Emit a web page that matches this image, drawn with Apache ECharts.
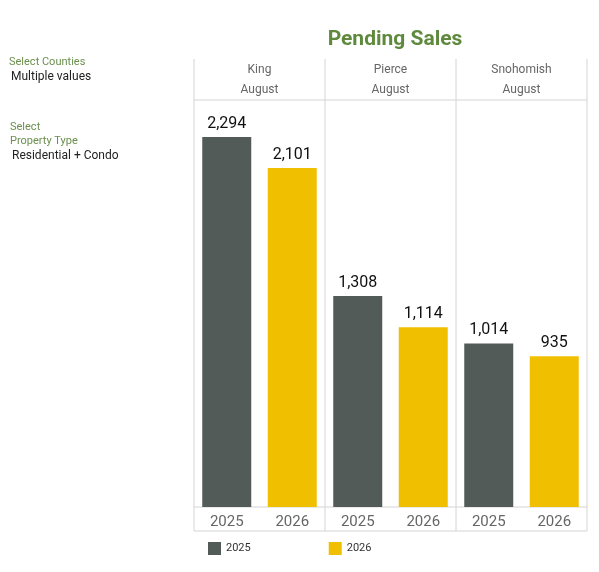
<!DOCTYPE html>
<html><head><meta charset="utf-8">
<script src="https://cdn.jsdelivr.net/npm/echarts@6/dist/echarts.min.js"></script>
<style>html,body{margin:0;padding:0;background:#fff}#main{width:599px;height:572px}</style>
</head><body><div id="main"></div>
<script>
var counties = ['King', 'Pierce', 'Snohomish'];
var month = 'August';
var years = ['2025', '2026'];
var sales2025 = [2294, 1308, 1014];
var sales2026 = [2101, 1114, 935];
var colors = ['#535b58', '#f0c000'];

var chart = echarts.init(document.getElementById('main'));
var F = 'Roboto';
var grids = [], xAxes = [], yAxes = [], series = [];
var lefts = [194, 325, 456];
counties.forEach(function (c, i) {
    grids.push({left: lefts[i], width: 131, top: 100, height: 407});
    xAxes.push({type: 'category', gridIndex: i, data: years,
        axisLine: {show: false}, axisTick: {show: false},
        axisLabel: {color: '#666', fontSize: 15, fontFamily: F, margin: 8}});
    yAxes.push({type: 'value', gridIndex: i, min: 0, max: 2523, show: false, splitLine: {show: false}});
    [sales2025, sales2026].forEach(function (arr, k) {
        var d = [null, null];
        d[k] = arr[i];
        series.push({type: 'bar', name: years[k], xAxisIndex: i, yAxisIndex: i,
            data: d, barWidth: 49, barGap: '-100%',
            itemStyle: {color: colors[k]},
            label: {show: true, position: 'top', color: '#111', fontSize: 16, fontFamily: F,
                formatter: function (p) { return p.value.toLocaleString('en-US'); }}});
    });
});

var g = [];
[194, 325, 456, 587].forEach(function (x) {
    g.push({type: 'line', shape: {x1: x, y1: 59, x2: x, y2: 531}, style: {stroke: '#d4d4d4', lineWidth: 1}});
});
[100, 507, 531].forEach(function (y) {
    g.push({type: 'line', shape: {x1: 194, y1: y, x2: 587, y2: y}, style: {stroke: '#d4d4d4', lineWidth: 1}});
});
counties.forEach(function (c, i) {
    var cx = lefts[i] + 65.5;
    g.push({type: 'text', x: cx, y: 70, style: {text: c, fill: '#666', font: '12px Roboto', align: 'center', verticalAlign: 'middle'}});
    g.push({type: 'text', x: cx, y: 90, style: {text: month, fill: '#666', font: '12px Roboto', align: 'center', verticalAlign: 'middle'}});
});
g.push({type: 'text', x: 9, y: 62, style: {text: 'Select Counties', fill: '#6b8f4e', font: '11px Roboto', verticalAlign: 'middle'}});
g.push({type: 'text', x: 11, y: 77, style: {text: 'Multiple values', fill: '#222', font: '12px Roboto', verticalAlign: 'middle'}});
g.push({type: 'text', x: 10, y: 127, style: {text: 'Select', fill: '#6b8f4e', font: '11px Roboto', verticalAlign: 'middle'}});
g.push({type: 'text', x: 10, y: 141, style: {text: 'Property Type', fill: '#6b8f4e', font: '11px Roboto', verticalAlign: 'middle'}});
g.push({type: 'text', x: 12, y: 156, style: {text: 'Residential + Condo', fill: '#222', font: '12px Roboto', verticalAlign: 'middle'}});

chart.setOption({
    animation: false,
    title: {text: 'Pending Sales', left: 390, textAlign: 'center', top: 24,
        textStyle: {color: '#5f8a3e', fontSize: 21, fontWeight: 'bold', fontFamily: F}},
    legend: {data: years, left: 203, top: 537, itemWidth: 13, itemHeight: 13, itemGap: 78,
        icon: 'rect', textStyle: {color: '#333', fontSize: 11, fontFamily: F}},
    grid: grids, xAxis: xAxes, yAxis: yAxes, series: series, graphic: g
});
</script></body></html>
